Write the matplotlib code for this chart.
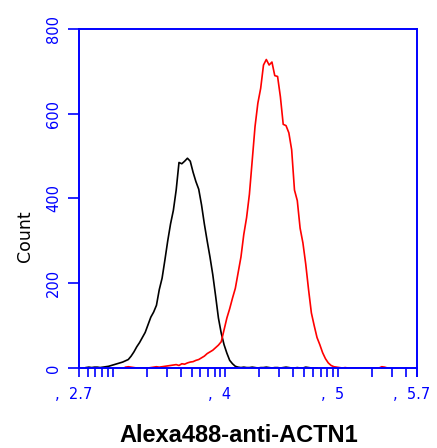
import numpy as np
import matplotlib
matplotlib.use("Agg")
import matplotlib.pyplot as plt
from matplotlib.ticker import FixedLocator, NullFormatter
import matplotlib.transforms as mtransforms

# ---- data (log10 bin start, bin width in log10, counts per bin) ----
bin_width = 0.025

black_start = 2.75
black_counts = [1, 2, 1, 2, 2, 1, 2, 3, 4, 6,
                8, 10, 12, 14, 17, 20, 28, 38, 50, 60,
                72, 84, 102, 120, 132, 148, 185, 212, 255, 300,
                340, 372, 420, 485, 482, 488, 495, 488, 462, 440,
                422, 385, 340, 300, 262, 220, 170, 118, 82, 55,
                35, 18, 10, 4, 2,
                1, 2, 1, 1, 2, 1, 0, 1, 1, 2, 1, 0, 1, 1, 0, 1, 2, 1, 0, 0,
                1, 0, 0, 2, 1, 0, 0, 0]

red_start = 3.10
red_counts = [2, 3, 2, 1, 0, 0, 0, 0, 0, 1, 2, 3, 2, 3, 4, 5, 6, 7,
              8, 6, 10, 9, 12, 14, 15, 18, 20, 24,
              28, 34, 38, 42, 48, 54, 62, 90, 118, 140,
              165, 188, 225, 262, 315, 355, 410, 490, 570, 625,
              660, 715, 728, 715, 722, 690, 688, 640, 575, 572,
              555, 515, 420, 395, 330, 295, 245, 185, 130, 100,
              72, 55, 36, 22, 12, 6, 3, 2, 1,
              0, 1, 0, 0, 0, 0, 0, 0, 0, 0, 0, 0, 0, 0, 3, 2, 0]

xlim_log = (2.7, 5.7)
y_ticks = [0, 200, 400, 600, 800]
x_label_pos_log = [2.7, 4, 5, 5.7]
x_tick_labels = [",  2.7", ",  4", ",  5", ",  5.7"]
x_label = "Alexa488-anti-ACTN1"
y_label = "Count"

BLUE = "#0000FF"

fig = plt.figure(figsize=(4.37, 4.48), dpi=100)
ax = fig.add_axes([79/437, 80/448, 338/437, 339/448])

def centres(start, n):
    return 10 ** (start + bin_width * (np.arange(n) + 0.5))

ax.plot(centres(black_start, len(black_counts)), black_counts,
        color="black", lw=1.2)
ax.plot(centres(red_start, len(red_counts)), red_counts,
        color="#FF0000", lw=1.2)

ax.set_xscale("log")
ax.set_xlim(10 ** xlim_log[0], 10 ** xlim_log[1])
ax.set_ylim(0, 800)

for s in ax.spines.values():
    s.set_color(BLUE)
    s.set_linewidth(1.4)
    s.set_zorder(3)

# y ticks
ax.set_yticks(y_ticks)
ax.set_yticklabels([str(v) for v in y_ticks], rotation=90, va="center",
                   color=BLUE, fontsize=10.5)
ax.tick_params(axis="y", direction="out", length=8, width=1.2, color=BLUE, pad=5)

# x ticks
ax.xaxis.set_major_locator(FixedLocator([10 ** v for v in x_label_pos_log]))
ax.set_xticklabels(x_tick_labels, color=BLUE, fontsize=10.5)
minor = [k * 10 ** n for n in range(2, 6) for k in range(1, 10)
         if 10 ** xlim_log[0] < k * 10 ** n < 10 ** xlim_log[1]]
ax.xaxis.set_minor_locator(FixedLocator(minor))
ax.xaxis.set_minor_formatter(NullFormatter())
ax.tick_params(axis="x", which="both", direction="out", length=6.5, width=1.2,
               color=BLUE, pad=7)
offset = mtransforms.ScaledTranslation(-4 / 72, 0, fig.dpi_scale_trans)
for lbl in ax.get_xticklabels():
    lbl.set_transform(lbl.get_transform() + offset)

ax.set_ylabel(y_label, fontsize=12.5, color="black", va="center")
ax.yaxis.set_label_coords(-0.16, 0.39)
ax.set_xlabel(x_label, fontsize=17, fontweight="bold", family="Liberation Sans",
              color="black", va="center")
ax.xaxis.set_label_coords(0.472, -0.2)

fig.savefig("out.png", dpi=100)
